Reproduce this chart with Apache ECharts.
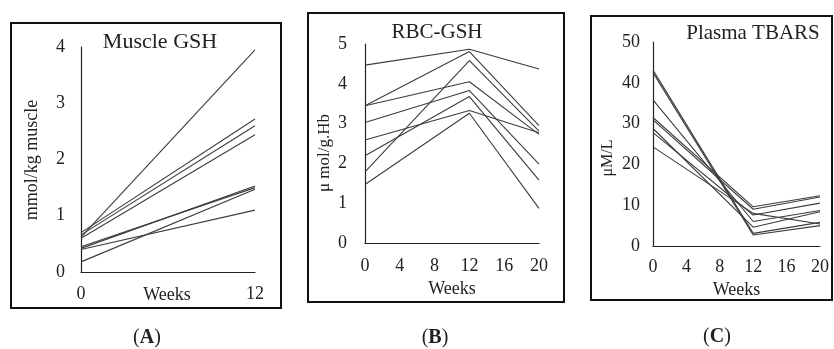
<!DOCTYPE html>
<html>
<head>
<meta charset="utf-8">
<script src="https://cdn.jsdelivr.net/npm/echarts@6/dist/echarts.min.js"></script>
<style>html,body{margin:0;padding:0;background:#fff}#c{width:834px;height:349px}</style>
</head>
<body>
<div id="c"></div>
<script>
// Panel A: Muscle GSH (mmol/kg muscle), weeks 0 and 12
const weeksA = [0, 12];
const muscleGSH = [
  [0.62, 3.95],
  [0.70, 2.72],
  [0.66, 2.60],
  [0.60, 2.44],
  [0.42, 1.53],
  [0.45, 1.50],
  [0.18, 1.47],
  [0.40, 1.10]
];
// Panel B: RBC-GSH (µmol/g Hb), weeks 0, 12, 20
const weeksBC = [0, 12, 20];
const rbcGSH = [
  [4.47, 4.87, 4.37],
  [3.45, 4.81, 2.95],
  [3.45, 4.05, 2.73],
  [3.03, 3.83, 1.98],
  [2.59, 3.33, 2.77],
  [2.19, 3.68, 1.58],
  [1.79, 4.58, 2.81],
  [1.47, 3.26, 0.87]
];
// Panel C: Plasma TBARS (µM/L), weeks 0, 12, 20
const plasmaTBARS = [
  [43.1, 3.1, 5.8],
  [42.5, 2.7, 5.0],
  [35.8, 6.0, 8.7],
  [31.5, 9.6, 12.3],
  [30.9, 9.0, 12.0],
  [28.8, 4.6, 8.4],
  [27.8, 7.6, 10.5],
  [24.3, 8.0, 5.4]
];
const titles = ['Muscle GSH', 'RBC-GSH', 'Plasma TBARS'];
const yNames = ['mmol/kg muscle', 'μ mol/g.Hb', 'μM/L'];
const xName = 'Weeks';
const panelLabels = ['A', 'B', 'C'];

const FONT = 'Liberation Serif';
const INK = '#222';
const LINE = '#3c3c3c';

const chart = echarts.init(document.getElementById('c'));

function xAx(idx, max, interval, margin, nameGap) {
  const a = {
    gridIndex: idx, type: 'value', min: 0, max: max, interval: interval,
    axisLine: {show: true, lineStyle: {color: INK, width: 1.2}},
    axisTick: {show: false}, splitLine: {show: false},
    axisLabel: {color: INK, fontFamily: FONT, fontSize: 18, margin: margin}
  };
  if (nameGap != null) {
    a.name = xName; a.nameLocation = 'middle'; a.nameGap = nameGap;
    a.nameTextStyle = {color: INK, fontFamily: FONT, fontSize: 18};
  }
  return a;
}
function yAx(idx, max, interval, margin) {
  return {
    gridIndex: idx, type: 'value', min: 0, max: max, interval: interval,
    axisLine: {show: true, lineStyle: {color: INK, width: 1.2}},
    axisTick: {show: false}, splitLine: {show: false},
    axisLabel: {color: INK, fontFamily: FONT, fontSize: 18, margin: margin}
  };
}
const series = [];
function addSeries(idx, xs, rows) {
  rows.forEach(r => {
    series.push({
      type: 'line', xAxisIndex: idx, yAxisIndex: idx, symbol: 'none', silent: true,
      lineStyle: {color: LINE, width: 1.1},
      data: xs.map((x, i) => [x, r[i]])
    });
  });
}
addSeries(0, weeksA, muscleGSH);
addSeries(1, weeksBC, rbcGSH);
addSeries(2, weeksBC, plasmaTBARS);

function txt(x, y, text, size, rot, extra) {
  return Object.assign({
    type: 'text', x: x, y: y, rotation: rot || 0,
    style: {text: text, fill: INK, font: size + 'px "' + FONT + '"', align: 'center', verticalAlign: 'middle'}
  }, extra || {});
}
function box(x1, y1, x2, y2) {
  return {type: 'rect', shape: {x: x1, y: y1, width: x2 - x1, height: y2 - y1},
    style: {fill: 'none', stroke: '#111', lineWidth: 2}};
}
function panelLabel(x, y, letter) {
  return {
    type: 'text', x: x, y: y,
    style: {
      text: '{p|(}{b|' + letter + '}{p|)}', align: 'center', verticalAlign: 'middle',
      rich: {
        p: {fontFamily: FONT, fontSize: 20, fill: INK},
        b: {fontFamily: FONT, fontSize: 20, fontWeight: 'bold', fill: INK}
      }
    }
  };
}

chart.setOption({
  animation: false,
  grid: [
    {left: 81, top: 47, width: 174, height: 225},
    {left: 365, top: 44, width: 174, height: 199},
    {left: 653, top: 42, width: 167, height: 204}
  ],
  xAxis: [xAx(0, 12, 12, 13, null), xAx(1, 20, 4, 14, 36), xAx(2, 20, 4, 12, 26)],
  yAxis: [yAx(0, 4, 1, 16), yAx(1, 5, 1, 18), yAx(2, 50, 10, 13)],
  series: series,
  graphic: [
    box(11, 23, 281, 308),
    box(308, 13, 564, 302),
    box(591, 16, 832, 300),
    txt(167, 295, xName, 18),
    txt(160, 42, titles[0], 22),
    txt(437, 32, titles[1], 21),
    txt(753, 33, titles[2], 21),
    txt(32, 160, yNames[0], 18, Math.PI / 2),
    txt(325, 153, yNames[1], 17, Math.PI / 2),
    txt(608, 158, yNames[2], 16, Math.PI / 2),
    panelLabel(147, 338, panelLabels[0]),
    panelLabel(435, 338, panelLabels[1]),
    panelLabel(717, 337, panelLabels[2])
  ]
});
</script>
</body>
</html>
